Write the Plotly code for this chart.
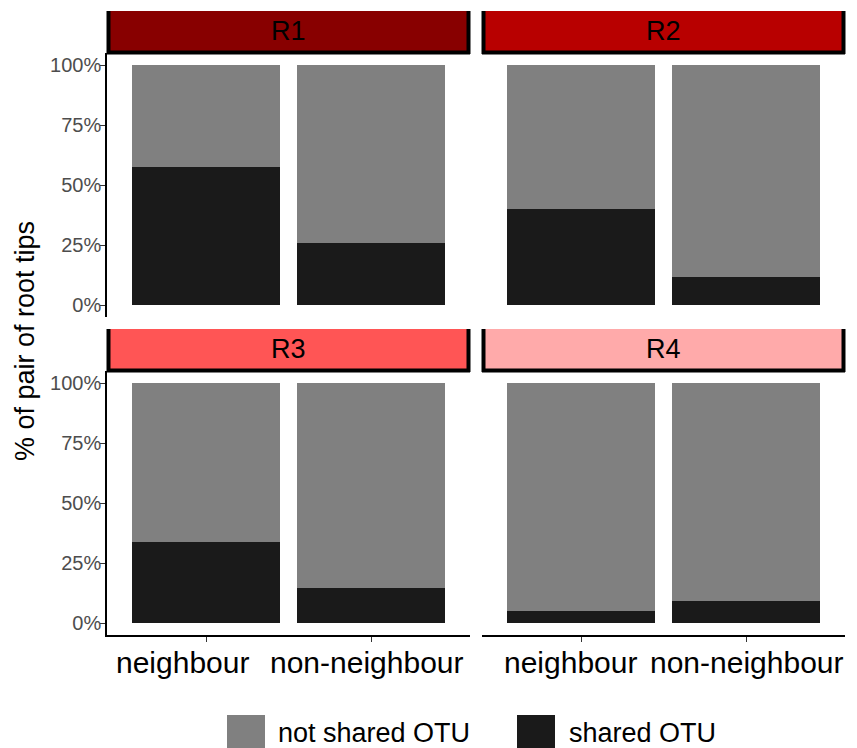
import plotly.graph_objects as go

W, H = 857, 748

panels = ["R1", "R2", "R3", "R4"]
strip_colors = ["#880000", "#B80000", "#FF5555", "#FFAAAA"]
categories = ["neighbour", "non-neighbour"]
shared = {
    "R1": [0.575, 0.258],
    "R2": [0.399, 0.118],
    "R3": [0.339, 0.147],
    "R4": [0.051, 0.093],
}
series_names = ["shared OTU", "not shared OTU"]
series_colors = {"shared OTU": "#1A1A1A", "not shared OTU": "#808080"}
ytick_vals = [0, 0.25, 0.5, 0.75, 1.0]
ytick_text = ["0%", "25%", "50%", "75%", "100%"]

FONT = "Liberation Sans, Arial, Helvetica, sans-serif"
# small per-column label offsets (px) seen in the reference
label_shift = [[-24, -4], [-11, 1]]


def px(x):
    return x / W


def py(y):
    return 1 - y / H


# panel pixel boxes (x0, x1, y_top, y_bottom)
col_x = [(107, 470), (482, 845)]
row_y = [(53, 317), (371, 635)]
strip_y = [(11, 53), (329, 371)]

fig = go.Figure()
shapes = []
annotations = []

for i, p in enumerate(panels):
    r, c = divmod(i, 2)
    n = i + 1
    xa = "x" if n == 1 else f"x{n}"
    ya = "y" if n == 1 else f"y{n}"
    sh = shared[p]
    not_sh = [1 - v for v in sh]
    fig.add_trace(go.Bar(x=categories, y=sh, name="shared OTU",
                         marker=dict(color=series_colors["shared OTU"], line=dict(width=0)),
                         width=0.9, xaxis=xa, yaxis=ya, showlegend=False))
    fig.add_trace(go.Bar(x=categories, y=not_sh, name="not shared OTU",
                         marker=dict(color=series_colors["not shared OTU"], line=dict(width=0)),
                         width=0.9, xaxis=xa, yaxis=ya, showlegend=False))

    x0, x1 = col_x[c]
    yt, yb = row_y[r]
    xkey = "xaxis" if n == 1 else f"xaxis{n}"
    ykey = "yaxis" if n == 1 else f"yaxis{n}"
    bottom = r == 1
    left = c == 0
    fig.layout[xkey] = dict(
        domain=[px(x0), px(x1)], anchor=ya, type="category",
        categoryorder="array", categoryarray=categories,
        tickangle=0, automargin=False,
        range=[-0.6, 1.6], showgrid=False, zeroline=False,
        showline=bottom, linecolor="black", linewidth=1.6,
        ticks="outside" if bottom else "", ticklen=5, tickwidth=1.4, tickcolor="#333333",
        showticklabels=False,
        fixedrange=True,
    )
    fig.layout[ykey] = dict(
        domain=[py(yb), py(yt)], anchor=xa, automargin=False,
        range=[-0.05, 1.05], showgrid=False, zeroline=False,
        showline=left, linecolor="black", linewidth=1.6,
        ticks="outside" if left else "", ticklen=5, tickwidth=1.4, tickcolor="#333333",
        tickvals=ytick_vals, ticktext=ytick_text,
        showticklabels=left, ticklabelstandoff=-5,
        tickfont=dict(family=FONT, size=20, color="#4D4D4D"),
        fixedrange=True,
    )

    # category labels under bottom-row panels, tied to the category axis
    if bottom:
        for k, cat in enumerate(categories):
            annotations.append(dict(text=cat, xref=xa, yref="paper",
                                    x=cat, y=py(662), xshift=label_shift[c][k],
                                    xanchor="center", yanchor="middle", showarrow=False,
                                    font=dict(family=FONT, size=30, color="black")))

    # strip
    sy0, sy1 = strip_y[r]
    shapes.append(dict(type="rect", xref="paper", yref="paper",
                       x0=px(x0), x1=px(x1), y0=py(sy1), y1=py(sy0),
                       fillcolor=strip_colors[i], line=dict(width=0), layer="above"))
    for (ax0, ay0, ax1, ay1) in [(x0 + 1.5, sy0, x0 + 1.5, sy1 + 1),
                                 (x1 - 1.5, sy0, x1 - 1.5, sy1 + 1),
                                 (x0, sy1 - 0.5, x1, sy1 - 0.5)]:
        shapes.append(dict(type="line", xref="paper", yref="paper",
                           x0=px(ax0), x1=px(ax1), y0=py(ay0), y1=py(ay1),
                           line=dict(color="black", width=4), layer="above"))
    annotations.append(dict(text=p, xref="paper", yref="paper",
                            x=px((x0 + x1) / 2), y=py((sy0 + sy1) / 2 - 1),
                            xanchor="center", yanchor="middle", showarrow=False,
                            font=dict(family=FONT, size=27, color="black")))

# y-axis title
annotations.append(dict(text="% of pair of root tips", xref="paper", yref="paper",
                        x=px(25), y=py(341), textangle=-90,
                        xanchor="center", yanchor="middle", showarrow=False,
                        font=dict(family=FONT, size=27, color="black")))

# legend (custom keys)
legend_items = [("not shared OTU", 227, 276), ("shared OTU", 517, 567)]
for name, kx, tx in legend_items:
    shapes.append(dict(type="rect", xref="paper", yref="paper",
                       x0=px(kx), x1=px(kx + 38), y0=py(753), y1=py(715),
                       fillcolor=series_colors[name], line=dict(width=0)))
    annotations.append(dict(text=name, xref="paper", yref="paper",
                            x=px(tx), y=py(733), xanchor="left", yanchor="middle",
                            showarrow=False,
                            font=dict(family=FONT, size=27, color="black")))

fig.update_layout(
    width=W, height=H, autosize=False,
    margin=dict(l=0, r=0, t=0, b=0, autoexpand=False),
    paper_bgcolor="white", plot_bgcolor="white",
    barmode="stack", bargap=0.1,
    shapes=shapes, annotations=annotations,
    showlegend=False,
)

fig.write_html(
    "out.html",
    config={"displayModeBar": False},
    post_script="document.body.style.margin='0';document.body.style.overflow='hidden';",
)
